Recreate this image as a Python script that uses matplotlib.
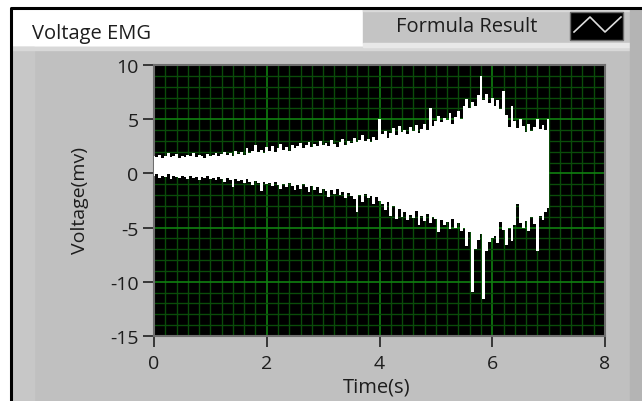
import numpy as np
import matplotlib
matplotlib.use('Agg')
import matplotlib.pyplot as plt
from matplotlib.patches import Rectangle
from matplotlib.ticker import MultipleLocator

plt.rcParams['font.family'] = ['Open Sans', 'DejaVu Sans']
plt.rcParams['axes.unicode_minus'] = False

# EMG envelope, one value every 0.05 s from 0 to 7 s
time_step = 0.05
upper = [1.6, 1.5, 1.7, 1.4, 1.6, 1.9, 1.5, 1.6, 1.8, 1.4, 1.6,
         1.5, 1.7, 1.6, 1.9, 1.5, 1.7, 1.6, 1.4, 1.8, 1.6,
         1.7, 1.9, 1.6, 1.8, 2.0, 1.7, 1.9, 1.6, 2.1, 1.8,
         2.0, 1.7, 2.3, 1.9, 2.1, 2.6, 2.0, 2.2, 1.9, 2.4,
         2.1, 2.5, 2.0, 2.3, 2.7, 2.2, 2.4, 2.1, 2.6, 2.3,
         2.5, 2.8, 2.3, 2.6, 2.9, 2.4, 2.7, 2.5, 3.0, 2.6,
         2.8, 2.5, 3.1, 2.7, 2.4, 2.9, 3.2, 2.6, 3.0, 2.8,
         3.3, 2.9, 3.1, 3.5, 3.0, 3.2, 2.9, 3.4, 3.1, 5.0,
         3.6, 3.9, 3.3, 3.7, 4.2, 3.5, 4.4, 3.8, 4.0, 3.6,
         4.3, 3.9, 4.5, 3.7, 4.1, 4.6, 4.0, 6.0, 4.4, 4.8,
         5.3, 4.7, 5.1, 4.9, 5.6, 4.6, 5.2, 5.8, 5.0, 6.2,
         6.9, 6.0, 6.6, 6.2, 7.2, 9.0, 6.8, 7.3, 6.5, 7.0,
         6.2, 6.8, 5.9, 7.6, 5.4, 4.3, 6.2, 4.8, 4.2, 5.0,
         4.4, 3.8, 4.6, 3.9, 4.3, 5.0, 4.1, 4.5, 4.0, 5.0]
lower = [-0.2, -0.1, -0.4, -0.2, -0.3, -0.1, -0.5, -0.2, -0.3, -0.4, -0.2,
         -0.3, -0.5, -0.2, -0.4, -0.3, -0.6, -0.3, -0.4, -0.2, -0.5,
         -0.4, -0.6, -0.3, -0.5, -0.8, -0.4, -0.6, -1.3, -0.5, -0.7,
         -0.6, -0.9, -0.5, -0.8, -1.1, -0.7, -0.9, -1.6, -0.8, -1.0,
         -0.9, -1.2, -0.8, -1.1, -1.4, -1.0, -1.3, -0.9, -1.2, -1.5,
         -1.1, -1.4, -1.0, -1.3, -1.7, -1.2, -1.5, -1.3, -1.8, -1.4,
         -1.6, -2.2, -1.5, -1.9, -1.4, -2.0, -1.7, -2.3, -1.8, -2.1,
         -2.4, -3.6, -2.0, -2.6, -1.9, -2.3, -2.1, -2.8, -2.2, -2.5,
         -2.8, -3.4, -2.6, -3.9, -3.0, -4.2, -3.3, -4.0, -3.6, -4.3,
         -3.8, -4.1, -3.5, -4.8, -3.9, -4.4, -3.7, -4.6, -4.0, -4.2,
         -5.4, -4.3, -4.8, -4.5, -5.1, -4.2, -5.0, -4.6, -5.3, -5.0,
         -6.7, -5.4, -10.9, -7.0, -6.1, -5.6, -11.6, -7.2, -6.3, -6.0,
         -5.8, -6.4, -4.5, -5.2, -6.6, -5.0, -6.2, -4.8, -2.8, -4.6,
         -5.0, -4.4, -5.3, -4.0, -4.7, -7.2, -3.9, -4.3, -3.6, -3.2]
t = np.arange(len(upper)) * time_step

x_ticks = [0, 2, 4, 6, 8]
y_ticks = [10, 5, 0, -5, -10, -15]

W, H = 642, 402
fig = plt.figure(figsize=(W / 100, H / 100), dpi=100)
fig.patch.set_facecolor('white')

# panel background drawn in pixel coordinates
bg = fig.add_axes([0, 0, 1, 1])
bg.set_xlim(0, W)
bg.set_ylim(H, 0)
bg.axis('off')
bg.add_patch(Rectangle((12, 48), W, H, color='#c0c0c0'))
bg.add_patch(Rectangle((12, 48), 22, H, color='#c7c7c7'))
bg.add_patch(Rectangle((12, 48), W, 3, color='#d8d8d8'))
bg.add_patch(Rectangle((363, 10), W, 34, color='#c4c4c4'))
bg.add_patch(Rectangle((363, 10), W, 2, color='#dadada'))
bg.add_patch(Rectangle((363, 44), W, 4, color='#e8e8e8'))
bg.add_patch(Rectangle((630, 10), 12, H, color='#b4b4b4'))
bg.plot([11, 11, W], [H, 9, 9], color='black', lw=2.2, solid_capstyle='butt')
bg.text(32, 34, 'Voltage EMG', fontsize=14.5, color='#1d1d1d', va='center', ha='left')
bg.text(396, 27, 'Formula Result', fontsize=14.5, color='#1d1d1d', va='center', ha='left')
bg.add_patch(Rectangle((570, 13), 53, 28, facecolor='black', edgecolor='#6a6a6a', lw=1))
bg.plot([574, 590, 605, 621], [33, 18, 33, 18], color='#dddddd', lw=1.2)

# the graph itself
ax = fig.add_axes([154 / W, 1 - 337 / H, (605 - 154) / W, (337 - 66) / H])
ax.set_facecolor('black')
ax.fill_between(t, lower, upper, step='mid', color='white', lw=0, zorder=3)
ax.set_xlim(0, 8)
ax.set_ylim(-15, 10)

ax.xaxis.set_minor_locator(MultipleLocator(0.2))
ax.yaxis.set_minor_locator(MultipleLocator(1))
ax.set_xticks(x_ticks)
ax.set_yticks(y_ticks)
ax.grid(which='minor', color='#0a4c0a', lw=1.0, zorder=1)
ax.grid(which='major', color='#108010', lw=1.2, zorder=2)
ax.tick_params(which='minor', length=0)
ax.tick_params(which='major', direction='out', length=8, width=1.2, color='#202020',
               labelsize=14, labelcolor='#1d1d1d', pad=3)
ax.tick_params(axis='x', which='major', pad=5)
for s in ax.spines.values():
    s.set_color('#6e6e6e')
    s.set_linewidth(1.5)

ax.set_xlabel('Time(s)', fontsize=14.5, color='#1d1d1d', va='center')
ax.set_ylabel('Voltage(mv)', fontsize=14, color='#1d1d1d', va='center')
ax.xaxis.set_label_coords((377 - 154) / 451, (337 - 388) / 271)
ax.yaxis.set_label_coords((80 - 154) / 451, (337 - 200) / 271)

fig.savefig('out.png', dpi=100)
